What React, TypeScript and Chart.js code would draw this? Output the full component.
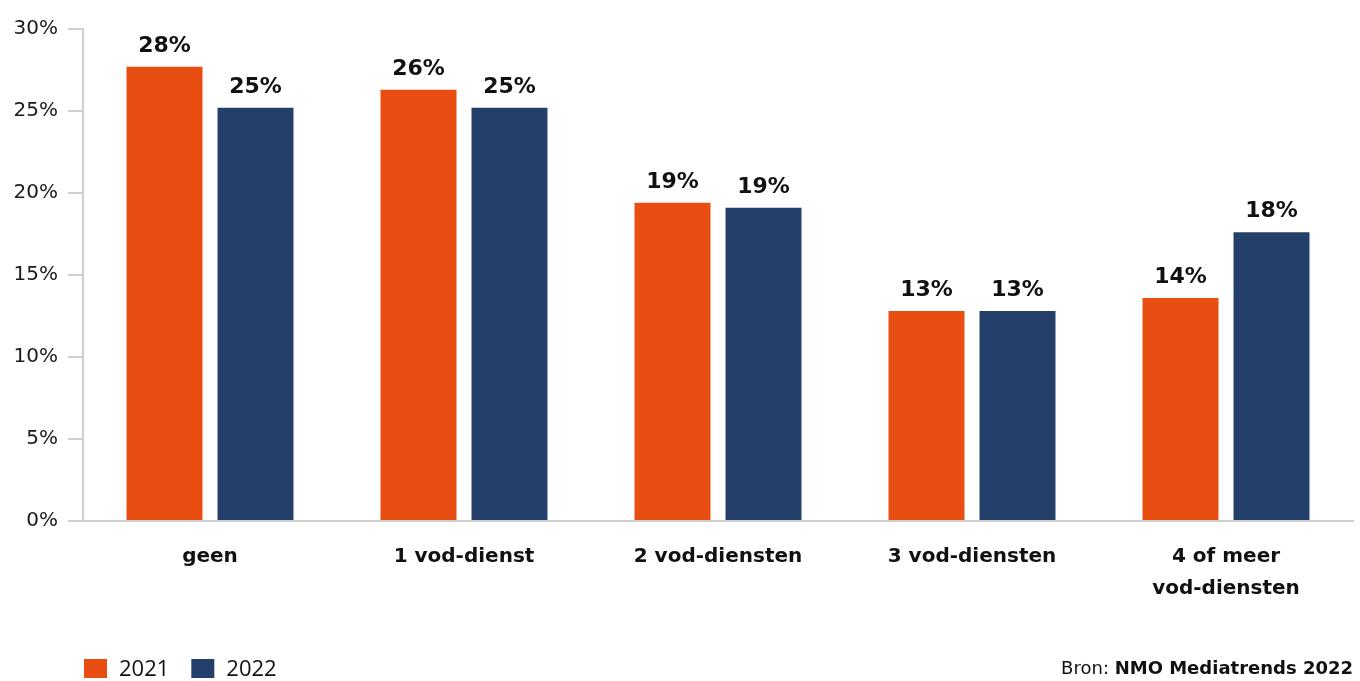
import React, { useEffect, useRef } from "react";
import { Chart, registerables } from "chart.js";

Chart.register(...registerables);

const categories: (string | string[])[] = [
  "geen",
  "1 vod-dienst",
  "2 vod-diensten",
  "3 vod-diensten",
  ["4 of meer", "vod-diensten"],
];
const values2021 = [27.7, 26.3, 19.4, 12.8, 13.6];
const values2022 = [25.2, 25.2, 19.1, 12.8, 17.6];
const seriesLabels = ["2021", "2022"];
const seriesColors = ["#E84E12", "#243F69"];
const yTicks = [0, 5, 10, 15, 20, 25, 30];
const sourcePrefix = "Bron: ";
const sourceName = "NMO Mediatrends 2022";

const FONT = "'DejaVu Sans', sans-serif";

// Rounded percentage printed above each bar
const valueLabels = {
  id: "valueLabels",
  afterDatasetsDraw(chart: any) {
    const ctx = chart.ctx;
    ctx.save();
    ctx.font = `bold 22px ${FONT}`;
    ctx.fillStyle = "#111";
    ctx.textAlign = "center";
    ctx.textBaseline = "alphabetic";
    chart.data.datasets.forEach((ds: any, di: number) => {
      const meta = chart.getDatasetMeta(di);
      meta.data.forEach((bar: any, i: number) => {
        const v = ds.data[i] as number;
        ctx.fillText(`${Math.round(v)}%`, bar.x, bar.y - 15);
      });
    });
    ctx.restore();
  },
};

// Legend at bottom left and source note at bottom right
const footer = {
  id: "footer",
  afterDraw(chart: any) {
    const ctx = chart.ctx;
    ctx.save();
    let x = 84;
    ctx.textBaseline = "middle";
    chart.data.datasets.forEach((ds: any) => {
      ctx.fillStyle = ds.backgroundColor;
      ctx.fillRect(x, 659, 23, 19);
      ctx.fillStyle = "#111";
      ctx.font = `22px 'Open Sans', sans-serif`;
      ctx.textAlign = "left";
      ctx.fillText(ds.label, x + 35, 670);
      x += 35 + ctx.measureText(ds.label).width + 22;
    });
    ctx.textAlign = "right";
    ctx.font = `bold 18px ${FONT}`;
    const right = 1353;
    const wName = ctx.measureText(sourceName).width;
    ctx.fillText(sourceName, right, 669);
    ctx.font = `18px ${FONT}`;
    ctx.fillText(sourcePrefix, right - wName, 669);
    ctx.restore();
  },
};

export default function App() {
  const ref = useRef<HTMLCanvasElement>(null);

  useEffect(() => {
    document.body.style.margin = "0";
    const chart = new Chart(ref.current!, {
      type: "bar",
      data: {
        labels: categories,
        datasets: [
          {
            label: seriesLabels[0],
            data: values2021,
            backgroundColor: seriesColors[0],
            categoryPercentage: 0.7165,
            barPercentage: 0.835,
          },
          {
            label: seriesLabels[1],
            data: values2022,
            backgroundColor: seriesColors[1],
            categoryPercentage: 0.7165,
            barPercentage: 0.835,
          },
        ],
      },
      options: {
        responsive: false,
        animation: false,
        layout: { padding: { top: 29, right: 7, left: 0, bottom: 0 } },
        plugins: {
          legend: { display: false },
          tooltip: { enabled: false },
        },
        scales: {
          x: {
            grid: { display: false },
            border: { display: true, color: "#cfcfcf", width: 2 },
            ticks: {
              color: "#111",
              font: { family: FONT, size: 20, weight: "bold", lineHeight: 1.6 },
              padding: 12,
              maxRotation: 0,
            },
            afterFit(scale: any) {
              scale.height = 160;
            },
          },
          y: {
            min: 0,
            max: 30,
            afterBuildTicks(scale: any) {
              scale.ticks = yTicks.map((v) => ({ value: v }));
            },
            grid: {
              drawOnChartArea: false,
              drawTicks: true,
              tickLength: 15,
              color: "#cfcfcf",
              lineWidth: 2,
            },
            border: { display: true, color: "#cfcfcf", width: 2 },
            ticks: {
              color: "#1a1a1a",
              font: { family: FONT, size: 20 },
              padding: 10,
              callback: (v: any) => `${v}%`,
            },
            afterFit(scale: any) {
              scale.width = 83;
            },
          },
        },
      },
      plugins: [valueLabels, footer],
    });
    return () => chart.destroy();
  }, []);

  return (
    <div style={{ width: 1360, height: 681 }}>
      <canvas ref={ref} width={1360} height={681} />
    </div>
  );
}
